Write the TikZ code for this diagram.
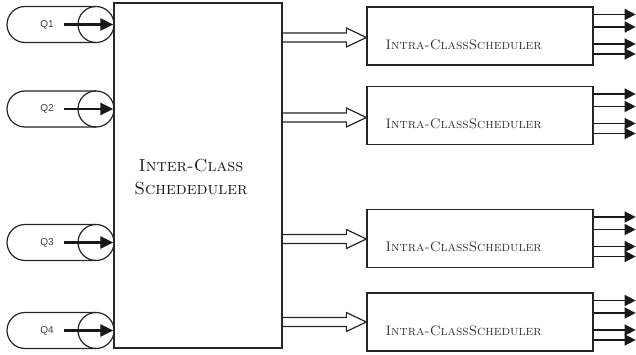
\documentclass[tikz,border=0pt]{standalone}
\usepackage{fontspec}
\newfontfamily\qfont{Liberation Sans}
\usetikzlibrary{arrows.meta,calc}
\begin{document}
\begin{tikzpicture}[x=1pt,y=-1pt,
  boxline/.style={draw=black!85, line width=1.3pt},
  mainbox/.style={boxline, rectangle, minimum width=168pt, minimum height=345pt, inner sep=0pt},
  intrabox/.style={boxline, rectangle, minimum width=226pt, minimum height=58pt, inner sep=0pt},
  intralabel/.style={anchor=base west, inner sep=0pt, text=black!80, font=\fontsize{13.8}{16}\selectfont\scshape},
  interlabel/.style={anchor=base, inner sep=0pt, text=black!90, font=\fontsize{17.5}{23}\selectfont\scshape},
  qlabel/.style={font=\qfont\fontsize{10}{12}\selectfont, text=black!75},
  qarrow/.style={draw=black!90, line width=2.4pt, -{Triangle[length=13pt,width=12pt]}},
  outarrow/.style={draw=black!90, line width=1.5pt, -{Triangle[length=11pt,width=11pt]}},
  hollow/.style={draw=black!85, line width=1.2pt, line join=miter},
  qshape/.style={draw=black!85, line width=1.2pt}
]
\useasboundingbox (0,0) rectangle (636,355);

% main scheduler
\node[mainbox] (inter) at (198,175.5) {};
\node[interlabel] (it1) at (191,172) {Inter-Class};
\node[interlabel] (it2) at (191,195) {Schededuler};

% intra-class schedulers
\foreach \n/\yy in {b1/36, b2/115.5, b3/238.5, b4/322} {
  \node[intrabox] (\n) at (480,\yy) {};
  \node[intralabel] (\n l) at ($(\n.north west)+(19,43)$) {Intra-ClassScheduler};
  \foreach \d in {-21.5,-9,8,18} {
    \draw[outarrow] ($(\n.east)+(0,\d)$) -- ++(42,0);
  }
}

% hollow arrows
\foreach \n/\yy in {b1/37.5, b2/117.5, b3/239, b4/322} {
  \coordinate (t\n) at ($(\n.west|-inter.center)+(0,\yy-175.5)$);
  \draw[hollow] ($(inter.east|-t\n)+(0,-4.5)$) -- ($(t\n)+(-20,-4.5)$) -- ($(t\n)+(-20,-9.5)$)
     -- (t\n) -- ($(t\n)+(-20,9.5)$) -- ($(t\n)+(-20,4.5)$) -- ($(inter.east|-t\n)+(0,4.5)$);
}

% queues
\foreach \q/\yy in {Q1/24.5, Q2/109, Q3/242.5, Q4/330.5} {
  \coordinate (c\q) at (96,\yy);
  \draw[qshape] ($(c\q)+(0,-18)$) -- ++(-71,0) arc[start angle=270, end angle=90, radius=18] -- ++(71,0);
  \draw[qshape] (c\q) circle[radius=18];
  \node[qlabel] (n\q) at (47,\yy) {\q};
  \draw[qarrow] ([xshift=7pt]n\q.east) -- (inter.west|-n\q);
}
\end{tikzpicture}
\end{document}
